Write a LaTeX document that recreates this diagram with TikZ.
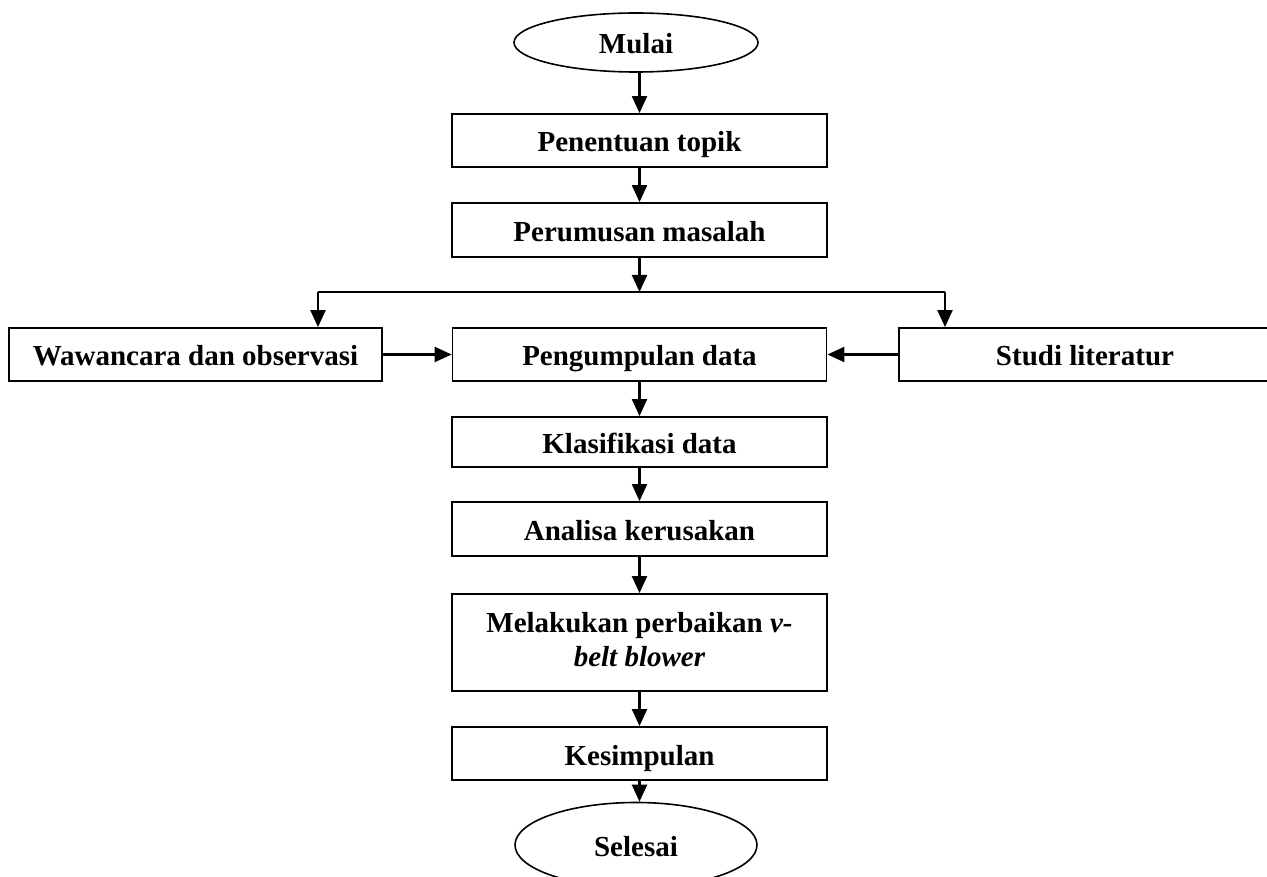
\documentclass[tikz,border=0pt]{standalone}
\usepackage{fontspec}
\setmainfont{Liberation Serif}
\usetikzlibrary{arrows.meta,shapes.geometric}

\tikzset{
  stepbox/.style={draw=black, line width=1.8pt, rectangle, inner sep=0pt,
    minimum height=53pt, text height=23pt, text depth=0pt,
    font=\fontsize{29}{34}\selectfont\bfseries, align=center},
  twoline/.style={text height={}, text depth={}},
  terminal/.style={draw=black, line width=1.6pt, ellipse, inner sep=0pt,
    minimum width=244pt, minimum height=59pt, text height=23pt, text depth=0pt,
    font=\fontsize{29}{34}\selectfont\bfseries},
  arr/.style={draw=black, line width=2.2pt, -{Triangle[length=17pt,width=15pt]}},
  link/.style={draw=black, line width=2.2pt}
}

\begin{document}
\begin{tikzpicture}[x=1pt, y=-1pt]
  \useasboundingbox (0,0) rectangle (1267,877);
  \clip (0,0) rectangle (1267,877);

  % main column
  \node[terminal] (mulai) at (636,42.5) {Mulai};
  \node[stepbox, minimum width=375pt] (topik) at (639.5,140.5) {Penentuan topik};
  \node[stepbox, minimum width=375pt, minimum height=54pt] (masalah) at (639.5,230) {Perumusan masalah};
  \node[stepbox, minimum width=374pt] (kumpul) at (639.5,354.5) {Pengumpulan data};
  \node[stepbox, minimum width=375pt, minimum height=50pt] (klasifikasi) at (639.5,442) {Klasifikasi data};
  \node[stepbox, minimum width=375pt, minimum height=54pt] (analisa) at (639.5,529) {Analisa kerusakan};
  \node[stepbox, twoline, minimum width=375pt, minimum height=97pt] (perbaikan) at (639.5,642.5)
    {Melakukan perbaikan \textit{v-}\\\textit{belt blower}\rule[-6pt]{0pt}{6pt}};
  \node[stepbox, minimum width=375pt] (kesimpulan) at (639.5,753.5) {Kesimpulan};
  \node[terminal, minimum width=242pt, minimum height=85pt] (selesai) at (636,845) {Selesai};

  % side inputs
  \node[stepbox, minimum width=373pt] (wawancara) at (195.5,354.5) {Wawancara dan observasi};
  \node[stepbox, minimum width=372pt] (studi) at (1085,354.5) {Studi literatur};

  % branching bus below the problem statement
  \coordinate (bus) at (639.5,292);
  \coordinate (busL) at (318,292);
  \coordinate (busR) at (945,292);

  % connectors
  \draw[arr] (mulai.south -| topik) -- (topik.north);
  \draw[arr] (topik) -- (masalah);
  \draw[arr] (masalah.south) -- (bus);
  \draw[link] (busL) -- (busR);
  \draw[arr] (busL) -- (busL |- wawancara.north);
  \draw[arr] (busR) -- (busR |- studi.north);
  \draw[arr] (wawancara.east) -- (kumpul.west);
  \draw[arr] (studi.west) -- (kumpul.east);
  \draw[arr] (kumpul) -- (klasifikasi);
  \draw[arr] (klasifikasi) -- (analisa);
  \draw[arr] (analisa) -- (perbaikan);
  \draw[arr] (perbaikan) -- (kesimpulan);
  \draw[arr] (kesimpulan.south) -- (kesimpulan.south |- selesai.north);
\end{tikzpicture}
\end{document}
